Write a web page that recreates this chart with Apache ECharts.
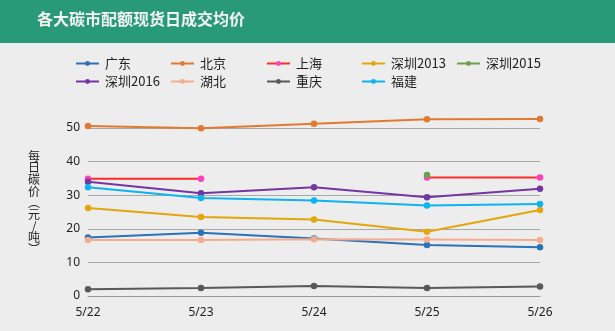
<!DOCTYPE html>
<html>
<head>
<meta charset="utf-8">
<script src="https://cdn.jsdelivr.net/npm/echarts@6/dist/echarts.min.js"></script>
<style>
html,body{margin:0;padding:0;background:#ededed;}
#c{width:615px;height:331px;}
</style>
</head>
<body>
<div id="c"></div>
<script>
var categories = ['5/22', '5/23', '5/24', '5/25', '5/26'];
var seriesNames = ['广东', '北京', '上海', '深圳2013', '深圳2015', '深圳2016', '湖北', '重庆', '福建'];
var guangdong = [17.4, 18.8, 17.1, 15.2, 14.5];
var beijing = [50.6, 49.9, 51.3, 52.6, 52.7];
var shanghai = [34.9, 34.9, null, 35.3, 35.3];
var shenzhen2013 = [26.2, 23.5, 22.8, 19.1, 25.6];
var shenzhen2015 = [null, null, null, 36.0, null];
var shenzhen2016 = [34.0, 30.6, 32.4, 29.4, 31.9];
var hubei = [16.7, 16.7, 16.9, 16.8, 16.7];
var chongqing = [2.0, 2.4, 3.0, 2.4, 2.8];
var fujian = [32.4, 29.2, 28.4, 26.9, 27.4];
var yTicks = [0, 10, 20, 30, 40, 50];
var yAxisTitle = '每日碳价︵元/吨︶';

var dataList = [guangdong, beijing, shanghai, shenzhen2013, shenzhen2015, shenzhen2016, hubei, chongqing, fujian];
var lineColors = ['#2b72b8', '#e07a32', '#ff2a2a', '#e3a70d', '#6c9f4c', '#7436a2', '#f3ad8e', '#595959', '#0db4ef'];
var dotColors  = ['#2b72b8', '#e07a32', '#ff3fbf', '#e3a70d', '#6c9f4c', '#7436a2', '#f3ad8e', '#595959', '#0db4ef'];

var chart = echarts.init(document.getElementById('c'), null, {renderer: 'canvas'});

var series = seriesNames.map(function (n, i) {
  return {
    name: n,
    type: 'line',
    data: dataList[i],
    clip: false,
    connectNulls: false,
    symbol: 'circle',
    symbolSize: 6.5,
    showAllSymbol: true,
    lineStyle: {color: lineColors[i], width: 2},
    itemStyle: {color: dotColors[i]},
    emphasis: {disabled: true},
    animation: false
  };
});

var legendPos = [
  [75, 57], [170, 57], [266, 57], [361, 57], [456, 57],
  [75, 75], [170, 75], [266, 75], [361, 75]
];
var legends = seriesNames.map(function (n, i) {
  return {
    data: [n],
    left: legendPos[i][0],
    top: legendPos[i][1],
    padding: 0,
    itemWidth: 23,
    itemHeight: 6,
    itemGap: 0,
    textStyle: {fontSize: 13, color: '#222', fontFamily: 'Noto Sans CJK SC', padding: [0, 0, 0, 1]},
    selectedMode: false
  };
});

var graphics = [
  {type: 'rect', left: 0, top: 0, shape: {width: 615, height: 43}, style: {fill: '#289a77'}, silent: true},
  {type: 'text', left: 37, top: 11, style: {text: '各大碳市配额现货日成交均价', fill: '#f4f4f4', font: 'bold 16px "Noto Sans CJK SC"'}}
];
yAxisTitle.split('').forEach(function (ch, i) {
  graphics.push({
    type: 'text',
    x: 34,
    y: 150 + i * 11.7,
    style: {text: ch, fill: '#222', font: '12px "Noto Sans CJK SC"', align: 'center', verticalAlign: 'top'}
  });
});

chart.setOption({
  backgroundColor: '#ededed',
  animation: false,
  legend: legends,
  grid: {left: 88, right: 75, top: 128, bottom: 35, containLabel: false},
  xAxis: {
    type: 'category',
    data: categories,
    boundaryGap: false,
    axisLine: {lineStyle: {color: '#999', width: 1}},
    axisTick: {show: false},
    axisLabel: {fontSize: 12, color: '#222', margin: 11, fontFamily: 'Noto Sans'}
  },
  yAxis: {
    type: 'value',
    min: yTicks[0],
    max: yTicks[yTicks.length - 1],
    interval: 10,
    axisLine: {show: false},
    axisTick: {show: false},
    splitLine: {lineStyle: {color: '#a8a8a8', width: 1}},
    axisLabel: {fontSize: 12, color: '#222', margin: 8, fontFamily: 'Noto Sans'}
  },
  graphic: graphics,
  series: series
});
</script>
</body>
</html>
